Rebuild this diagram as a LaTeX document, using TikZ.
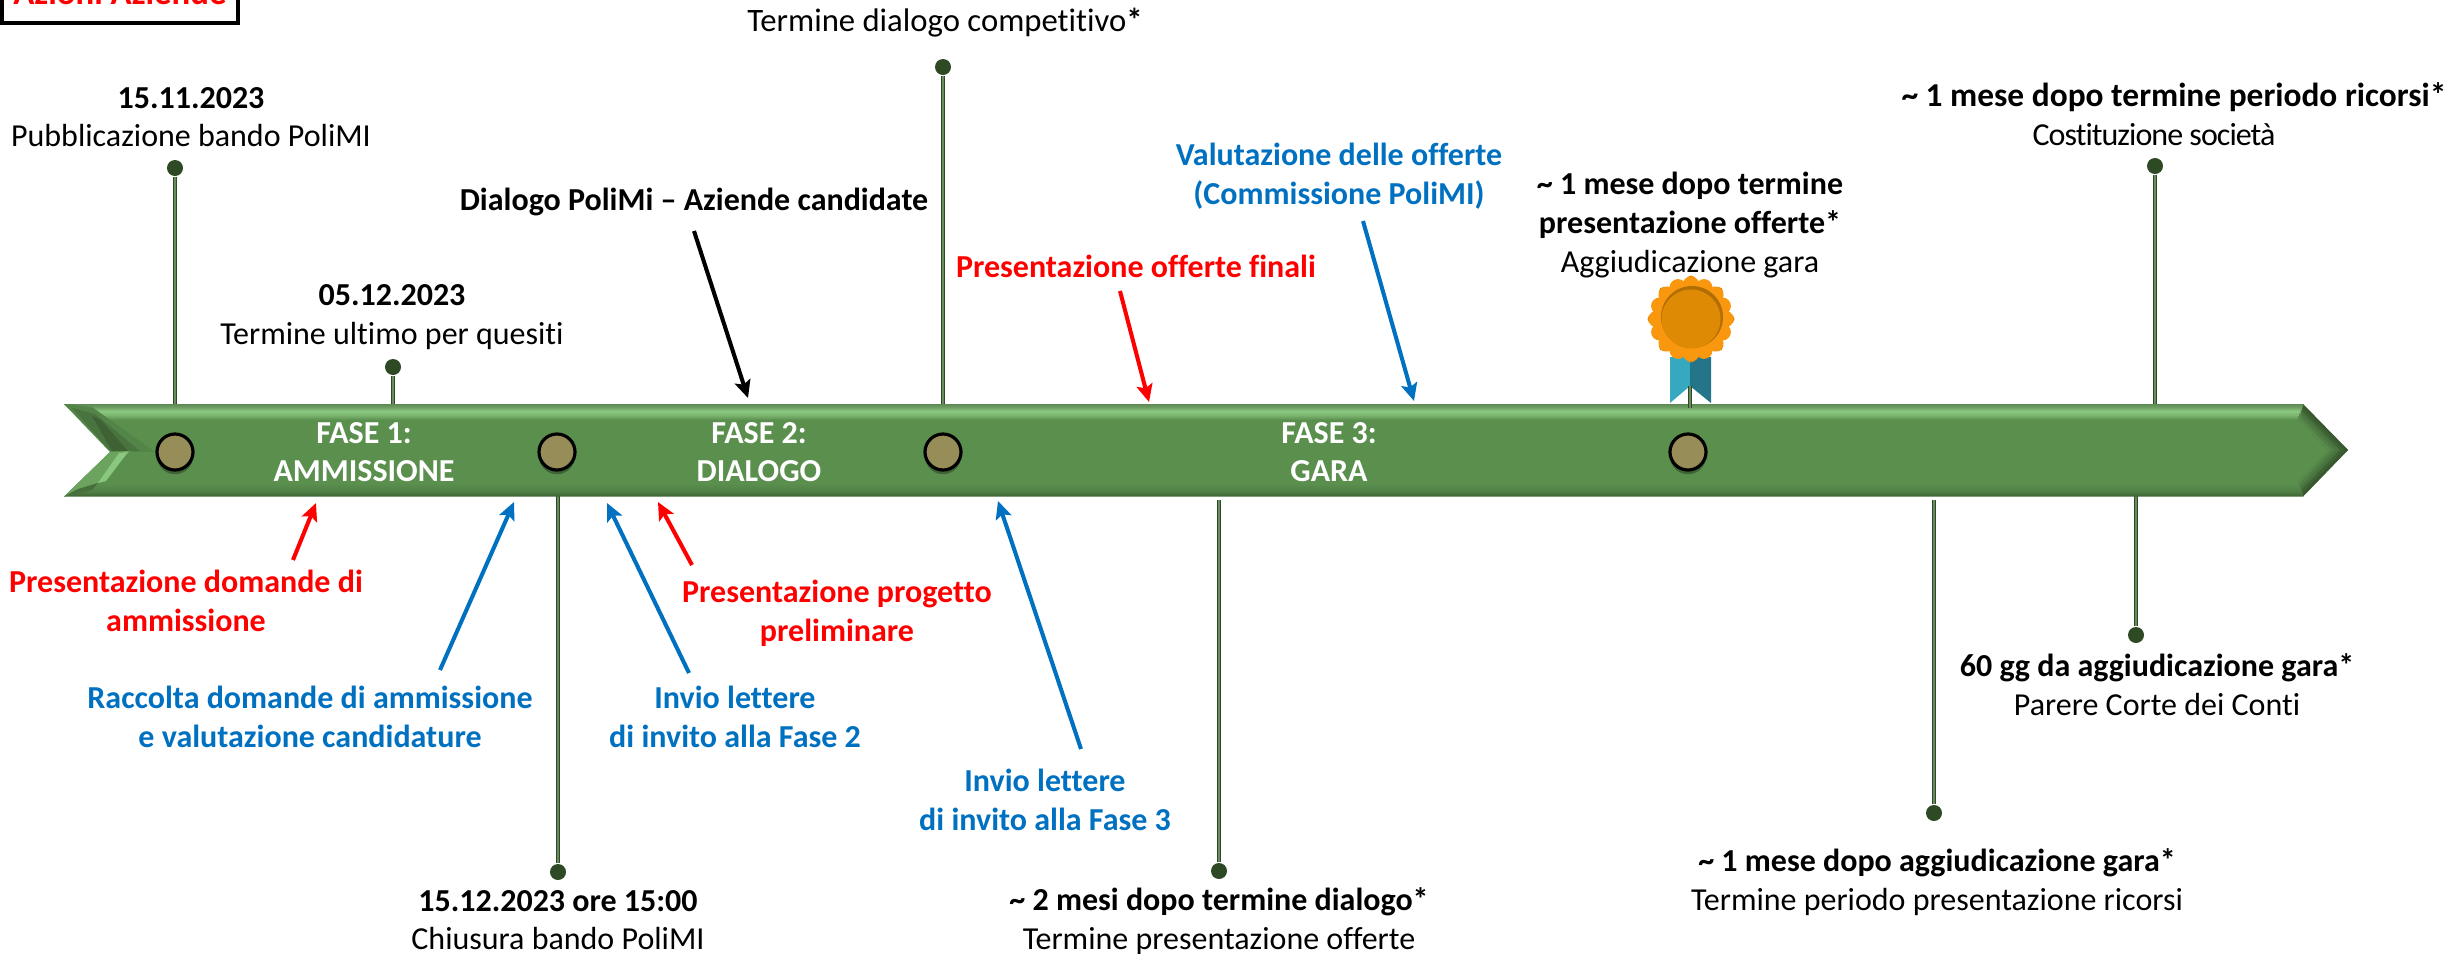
\documentclass[tikz,border=0pt]{standalone}
\usepackage{fontspec}
\setmainfont[Ligatures=CommonOff]{Carlito}
\usetikzlibrary{arrows.meta,shadows}

\definecolor{bandmid}{HTML}{5A8F4E}
\definecolor{bandlite}{HTML}{8BC87F}
\definecolor{bandedge}{HTML}{5F8A55}
\definecolor{banddark}{HTML}{3F6235}
\definecolor{bandlow}{HTML}{4F7F44}
\definecolor{pindark}{HTML}{2D4A25}
\definecolor{pinlite}{HTML}{6A8A60}
\definecolor{stopfill}{HTML}{978D58}
\definecolor{ourblue}{HTML}{0070C0}
\definecolor{medalout}{HTML}{F9980F}
\definecolor{medalin}{HTML}{DE8A04}
\definecolor{ribbonlt}{HTML}{36A9C0}
\definecolor{ribbondk}{HTML}{24748A}

\pgfdeclareverticalshading{bandshade}{100bp}{color(0bp)=(banddark);color(25bp)=(banddark);
  color(27.7bp)=(bandlow);color(32bp)=(bandmid);color(66.4bp)=(bandmid);color(69.1bp)=(bandlite!70!bandmid);
  color(71.2bp)=(bandlite);color(73.4bp)=(bandedge!70!bandlite);color(75bp)=(bandedge);color(100bp)=(bandedge)}

\tikzset{
  txt/.style={font=\fontsize{9.1pt}{11pt}\selectfont,align=center,inner sep=0pt},
  txtred/.style={txt,text=red,font=\fontsize{9.1pt}{11pt}\selectfont\bfseries},
  txtblue/.style={txt,text=ourblue,font=\fontsize{9.1pt}{11pt}\selectfont\bfseries},
  txtblack/.style={txt,font=\fontsize{9.1pt}{11pt}\selectfont\bfseries},
  txtfase/.style={txt,text=white,font=\fontsize{9.1pt}{11pt}\selectfont\bfseries},
  pinline/.style={draw=pindark,line width=.42pt,double=pinlite,double distance=.3pt},
  pindot/.style={circle,fill=pindark,inner sep=0pt,minimum size=.16cm},
  stopdot/.style={circle,draw=black,line width=.9pt,fill=stopfill,inner sep=0pt,minimum size=.36cm,
    drop shadow={shadow xshift=0pt,shadow yshift=-1.2pt,opacity=.3,fill=black}},
  arrowline/.style={line width=1.15pt,-{Stealth[length=5pt,width=4.6pt,inset=1pt]}}
}

\begin{document}
\begin{tikzpicture}[x=.01cm,y=-.01cm]
\useasboundingbox (0,0) rectangle (2453,954);

% Box in the corner
\node[draw=black,line width=1.15pt,fill=white,minimum width=2.36cm,minimum height=.62cm,inner sep=0pt,
  text=red,font=\fontsize{9.9pt}{11pt}\selectfont\bfseries] (boxAzioni) at (120,-8) {Azioni Aziende};

% Pins, dot first then line down/up to the band
\foreach \pinname/\px/\py/\pend in {pinA/175/168/420,pinB/393/367/420,pinC/943/67/420,pinD/2155/166/420,
    pinE/558/872/480,pinF/1219/871/500,pinG/1934/813/500,pinH/2136/635/480} {
  \node[pindot] (\pinname) at (\px,\py) {};
  \coordinate (\pinname end) at (\px,\pend);
  \draw[pinline] (\pinname) -- (\pinname end);
}

% Band
\path[shading=bandshade] (64,404) -- (2303,404) -- (2348,450) -- (2303,496.5) -- (64,496.5) -- (110,452) -- cycle;

% Arrow head part, darker towards the edges
\foreach \d/\shade in {0/banddark!90!black,3/banddark,6/banddark!60!bandmid,9/bandlow,12/bandmid!70!bandlow,15/bandmid} {
  \fill[\shade] ({2303-.4*\d},{404+\d}) -- ({2348-1.41*\d},450) -- ({2303-.4*\d},{496.5-\d}) -- cycle;
}

% Notch part, dark above and bright below
\fill[bandmid!75!banddark] (64,404) -- (92,407) -- (155,452) -- (110,451) -- cycle;
\fill[banddark!60!bandmid] (72,408) -- (95,414) -- (140,451) -- (110,451) -- cycle;
\fill[banddark] (92,416) -- (101,420) -- (128,451) -- (112,451) -- cycle;
\fill[bandmid!65!bandlite] (64,496.5) -- (110,452) -- (130,451) -- (92,489) -- cycle;
\fill[bandlite] (98,483) -- (119,453) -- (128,452) -- (106,481) -- cycle;
\fill[banddark!70!bandmid] (64,496.5) -- (78,489) -- (98,483) -- (92,490) -- cycle;

% Stops on the band
\foreach \stopname/\px in {stopA/175,stopB/557,stopC/943,stopD/1688} {
  \node[stopdot] (\stopname) at (\px,452) {};
}

% Medal
\fill[ribbonlt] (1690,357) -- (1670,357) -- (1670,403) -- (1690,386) -- cycle;
\fill[ribbondk] (1690,357) -- (1711,357) -- (1711,403) -- (1690,386) -- cycle;
\foreach \angle in {0,45,...,315} {
  \fill[medalout!88!black] (1691,319) ++(\angle:38) circle (.055cm);
}
\foreach \angle in {22.5,45,...,360} {
  \fill[medalout] (1691,319) ++(\angle:34) circle (.085cm);
}
\fill[medalout] (1691,319) circle (.37cm);
\fill[medalin!80!black] (1692,317) circle (.31cm);
\fill[medalin] (1691,319) circle (.295cm);
\coordinate (medalTop) at (1690,386);
\coordinate (medalEnd) at (1690,408);
\draw[pinline] (medalTop) -- (medalEnd);

% Band labels
\node[txtfase] (faseA) at (364,452) {FASE 1:\\AMMISSIONE};
\node[txtfase] (faseB) at (759,452) {FASE 2:\\DIALOGO};
\node[txtfase] (faseC) at (1329,452) {FASE 3:\\GARA};

% Dates above
\node[txt] (lblA) at (191,117) {\textbf{15.11.2023}\\Pubblicazione bando PoliMI};
\node[txt] (lblB) at (392,317) {\textbf{05.12.2023}\\Termine ultimo per quesiti};
\node[txt,font=\fontsize{9.3pt}{11pt}\selectfont] (lblC) at (945,23) {Termine dialogo competitivo\textbf{*}};
\node[txt,font=\fontsize{9.5pt}{11pt}\selectfont] (lblD) at (2174,97) {\textbf{\textasciitilde{} 1 mese dopo termine periodo ricorsi*}};
\node[txt,font=\fontsize{9.1pt}{11pt}\selectfont\addfontfeature{LetterSpace=-3}] (lblDb) at (2154,135) {Costituzione società};
\node[txt] (lblE) at (1690,225) {\textbf{\textasciitilde{} 1 mese dopo termine}\\\textbf{presentazione offerte*}\\Aggiudicazione gara};

% Dates below
\node[txt] (lblF) at (558,920) {\textbf{15.12.2023 ore 15:00}\\Chiusura bando PoliMI};
\node[txt] (lblG) at (1219,921) {\textbf{\textasciitilde{} 2 mesi dopo termine dialogo*}\\Termine presentazione offerte};
\node[txt] (lblH) at (1937,882) {\textbf{\textasciitilde{} 1 mese dopo aggiudicazione gara*}\\Termine periodo presentazione ricorsi};
\node[txt] (lblI) at (2157,685) {\textbf{60 gg da aggiudicazione gara*}\\Parere Corte dei Conti};

% Actions
\node[txtblack] (actDialogo) at (694,202) {Dialogo PoliMi -- Aziende candidate};
\node[txtred] (actFinali) at (1136,266) {Presentazione offerte finali};
\node[txtblue] (actValuta) at (1339,176) {Valutazione delle offerte\\(Commissione PoliMI)};
\node[txtred] (actDomande) at (186,601) {Presentazione domande di\\ammissione};
\node[txtblue] (actRaccolta) at (310,717) {Raccolta domande di ammissione\\e valutazione candidature};
\node[txtblue] (actInvioA) at (735,717) {Invio lettere\\di invito alla Fase 2};
\node[txtred] (actProgetto) at (837,613) {Presentazione progetto\\preliminare};
\node[txtblue] (actInvioB) at (1045,800) {Invio lettere\\di invito alla Fase 3};

% Arrows, from action to band
\foreach \arrname/\arrcol/\ax/\ay/\bx/\by in {arrDialogo/black/694/231/748/398,arrFinali/red/1120/291/1149/402,
    arrValuta/ourblue/1363/221/1414/401,arrDomande/red/293/560/316/503,arrRaccolta/ourblue/440/670/514/502,
    arrInvioA/ourblue/689/673/607/503,arrProgetto/red/692/565/658/502,arrInvioB/ourblue/1081/749/998/501} {
  \coordinate (\arrname start) at (\ax,\ay);
  \coordinate (\arrname end) at (\bx,\by);
  \draw[arrowline,\arrcol] (\arrname start) -- (\arrname end);
}
\end{tikzpicture}
\end{document}
